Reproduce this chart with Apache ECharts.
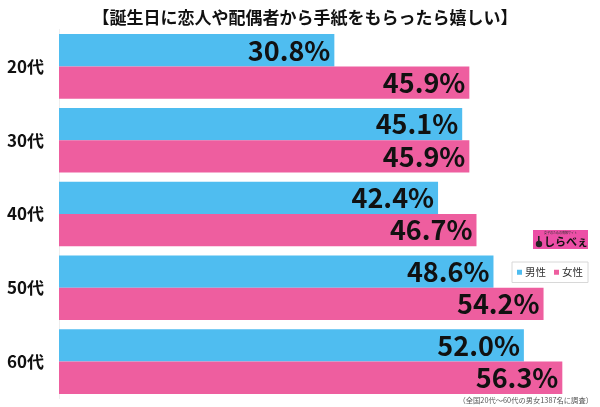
<!DOCTYPE html>
<html><head><meta charset="utf-8">
<script src="https://cdn.jsdelivr.net/npm/echarts@6/dist/echarts.min.js"></script>
<style>html,body{margin:0;padding:0;background:#fff}#c{width:600px;height:407px}</style>
</head><body><div id="c"></div>
<script>
const categories = ['20代','30代','40代','50代','60代'];
const male = [30.8, 45.1, 42.4, 48.6, 52.0];
const female = [45.9, 45.9, 46.7, 54.2, 56.3];
const seriesNames = ['男性','女性'];
const titleText = '【誕生日に恋人や配偶者から手紙をもらったら嬉しい】';
const footnote = '（全国20代～60代の男女1387名に調査）';

const FONT = '"Noto Sans CJK JP", "Noto Sans", sans-serif';
const chart = echarts.init(document.getElementById('c'), null, {renderer:'canvas'});
const lbl = {
  show: true, position: 'insideRight', distance: 4,
  color: '#111', fontSize: 27, fontWeight: 'bold', fontFamily: FONT,
  formatter: p => p.value.toFixed(1) + '%'
};
chart.setOption({
  animation: false,
  backgroundColor: '#fff',
  title: {
    text: titleText, left: 300, top: 4, textAlign: 'center',
    textStyle: {fontSize: 17, fontWeight: 'bold', color: '#111', fontFamily: FONT}
  },
  legend: {
    data: seriesNames, right: 12, top: 262, orient: 'horizontal',
    icon: 'rect', itemWidth: 5, itemHeight: 5, itemGap: 8,
    borderColor: '#d8d8d8', borderWidth: 1, padding: [5, 5],
    textStyle: {fontSize: 10.5, color: '#333', fontFamily: FONT, padding: [0,0,0,-2]}
  },
  grid: {left: 59, top: 29.5, width: 536.4, height: 369},
  xAxis: {type: 'value', min: 0, max: 60, show: false},
  yAxis: {
    type: 'category', data: categories, inverse: true,
    axisLine: {show: true, lineStyle: {color: '#eeeeee'}},
    axisTick: {show: false},
    axisLabel: {margin: 15, fontSize: 17, fontWeight: 'bold', color: '#111', fontFamily: FONT}
  },
  series: [
    {name: seriesNames[0], type: 'bar', data: male, barGap: '0%', barCategoryGap: '12.5%',
     itemStyle: {color: '#4FBDF0'}, label: lbl},
    {name: seriesNames[1], type: 'bar', data: female, barGap: '0%', barCategoryGap: '12.5%',
     itemStyle: {color: '#EE5E9F'}, label: lbl}
  ],
  graphic: [
    {type: 'rect', left: 533, top: 230, shape: {width: 55, height: 19}, style: {fill: '#EC4FA6'}},
    {type: 'text', left: 544, top: 231, style: {text: '女子のための情報サイト', fill: '#333', font: '3px ' + FONT}},
    {type: 'circle', shape: {cx: 539, cy: 244, r: 3.2}, style: {fill: '#222'}},
    {type: 'rect', shape: {x: 538, y: 236, width: 1.6, height: 6}, style: {fill: '#222'}},
    {type: 'text', left: 544, top: 236, style: {text: 'しらべぇ', fill: '#111', font: 'bold 11px ' + FONT}},
    {type: 'text', right: 7, top: 397, style: {text: footnote, fill: '#555', font: '7.3px ' + FONT}}
  ]
});
</script></body></html>
